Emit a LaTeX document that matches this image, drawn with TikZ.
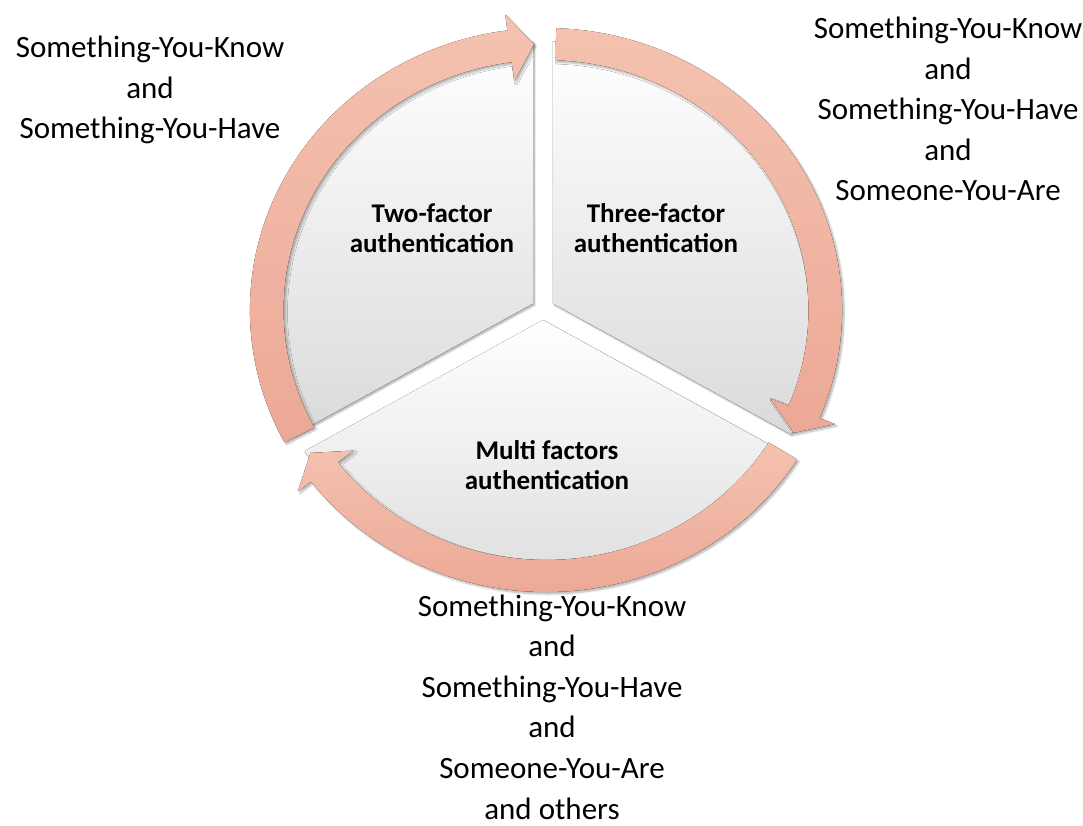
\documentclass[tikz,border=0pt]{standalone}
\usepackage{fontspec}
\setmainfont{Carlito}
\usetikzlibrary{shadows.blur}
\definecolor{pinkA}{RGB}{245,194,176}
\definecolor{pinkB}{RGB}{236,168,150}
\definecolor{sectorB}{RGB}{218,218,218}
\tikzset{
  sector/.style={top color=white, bottom color=sectorB,
    blur shadow={shadow xshift=1.5pt, shadow yshift=-1.5pt, shadow blur steps=6, shadow opacity=35}},
  ringarrow/.style={top color=pinkA, bottom color=pinkB,
    blur shadow={shadow xshift=2pt, shadow yshift=-2pt, shadow blur steps=6, shadow opacity=30}},
  outertext/.style={align=center, inner sep=0pt, font=\fontsize{31}{40.6}\selectfont},
  innerlabel/.style={align=center, inner sep=0pt, font=\bfseries\fontsize{27}{30}\selectfont},
}
\begin{document}
\begin{tikzpicture}[x=1pt,y=-1pt]
\useasboundingbox (0,0) rectangle (1083,826);
\begin{scope}[shift={(546,310)}, xscale=1.05, yscale=-1]
  % pie sectors
  \begin{scope}[shift={(-2.9,1)}]
  \foreach \s/\n in {90/s1, -30/s2, 210/s3} {
    \fill[sector, shift={({\s+60}:11)}] (0,0) -- (\s:262)
      arc[start angle=\s, end angle=\s+120, radius=262] -- cycle;
  }
  \end{scope}
  % ring arrows
  \foreach \g/\n in {210/a1, 90/a2, 330/a3} {
    \pgfmathsetmacro\aO{\g-2}
    \pgfmathsetmacro\aI{\g-120+7.5}
    \pgfmathsetmacro\aT{\g-120+2.5}
    \fill[ringarrow] (\aO:282) arc[start angle=\aO, end angle=\aI, radius=282]
      -- (\aI:298) -- (\aT:266) -- (\aI:231) -- (\aI:250)
      arc[start angle=\aI, end angle=\aO, radius=250] -- cycle;
  }
\end{scope}
\node[innerlabel] (two) at (432,228) {Two-factor\\authentication};
\node[innerlabel] (three) at (656,228) {Three-factor\\authentication};
\node[innerlabel] (multi) at (547,465) {Multi factors\\authentication};
\node[outertext] (tl) at (150,90) {Something-You-Know\\and\\Something-You-Have};
\node[outertext] (tr) at (948,109) {Something-You-Know\\and\\Something-You-Have\\and\\Someone-You-Are};
\node[outertext] (bt) at (552,707) {Something-You-Know\\and\\Something-You-Have\\and\\Someone-You-Are\\and others};
\end{tikzpicture}
\end{document}
